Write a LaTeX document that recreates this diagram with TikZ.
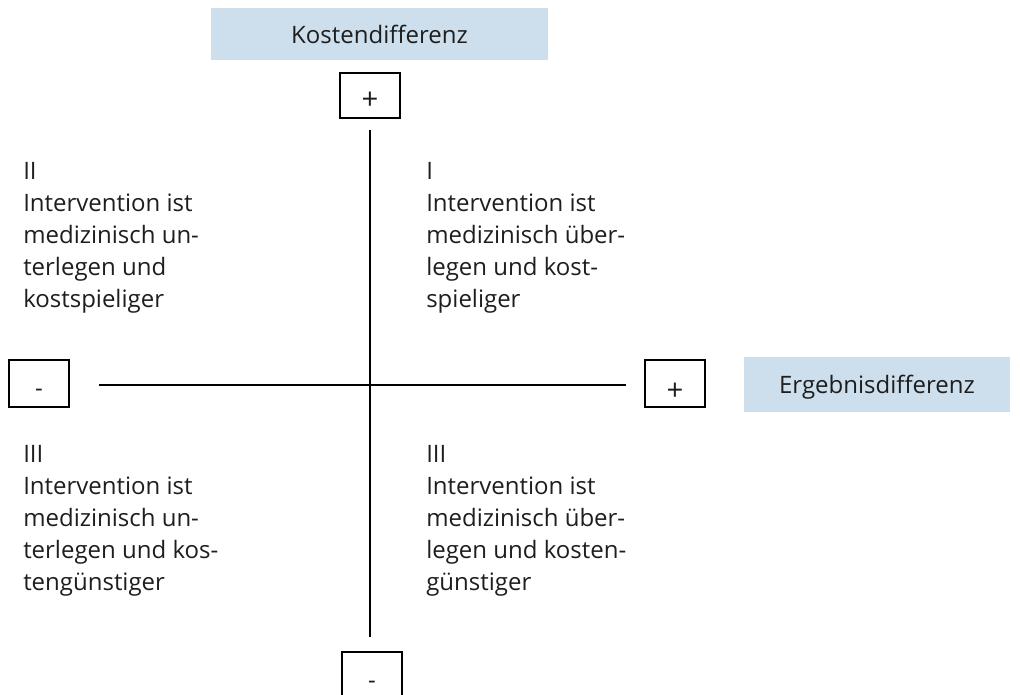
\documentclass[tikz,border=0pt]{standalone}
\usepackage{fontspec}
\setmainfont{Open Sans}
\definecolor{lblue}{RGB}{205,223,236}
\definecolor{txt}{RGB}{30,30,30}
\begin{document}
\begin{tikzpicture}[x=0.75pt,y=-0.75pt,
  every node/.style={font=\fontsize{18}{24}\selectfont, text=txt},
  labelbox/.style={fill=lblue, inner sep=0pt, text depth=0pt},
  signbox/.style={draw=black, line width=1.3pt, minimum width=45pt, minimum height=35.25pt, inner sep=0pt, text depth=0pt, text height=20pt},
  plusbox/.style={signbox, font=\fontsize{22}{24}\selectfont},
  quadtext/.style={anchor=north west, inner sep=0pt, align=left},
  axis/.style={draw=black, line width=1.4pt}]
\useasboundingbox (0,0) rectangle (1020,695);
\clip (0,0) rectangle (1020,695);
% labels
\node[labelbox, minimum width=253pt, minimum height=39pt] (kd) at (379.5,34) {Kostendifferenz};
\node[labelbox, minimum width=199.5pt, minimum height=41pt] (ed) at (877,384.5) {Ergebnisdifferenz};
% sign boxes
\node[plusbox, minimum height=33.75pt, text height=21pt] (ptop) at (370,95.5) {+};
\node[signbox] (mleft) at (39,383.5) {-};
\node[plusbox, text height=25.5pt] (pright) at (675,383.5) {+};
\node[signbox] (mbot) at (372,675.5) {-};
% axes
\coordinate (hl) at (99,385);
\coordinate (hr) at (626,385);
\coordinate (vt) at (370,130);
\coordinate (vb) at (370,637);
\draw[axis] (hl) -- (hr);
\draw[axis] (vt) -- (vb);
% quadrant texts
\node[quadtext] (q2) at (23,162) {II\\Intervention ist\\medizinisch un-\\terlegen und\\kostspieliger};
\node[quadtext] (q1) at (426,162) {I\\Intervention ist\\medizinisch über-\\legen und kost-\\spieliger};
\node[quadtext] (q3) at (23,445) {III\\Intervention ist\\medizinisch un-\\terlegen und kos-\\tengünstiger};
\node[quadtext] (q4) at (426,445) {III\\Intervention ist\\medizinisch über-\\legen und kosten-\\günstiger};
\end{tikzpicture}
\end{document}
